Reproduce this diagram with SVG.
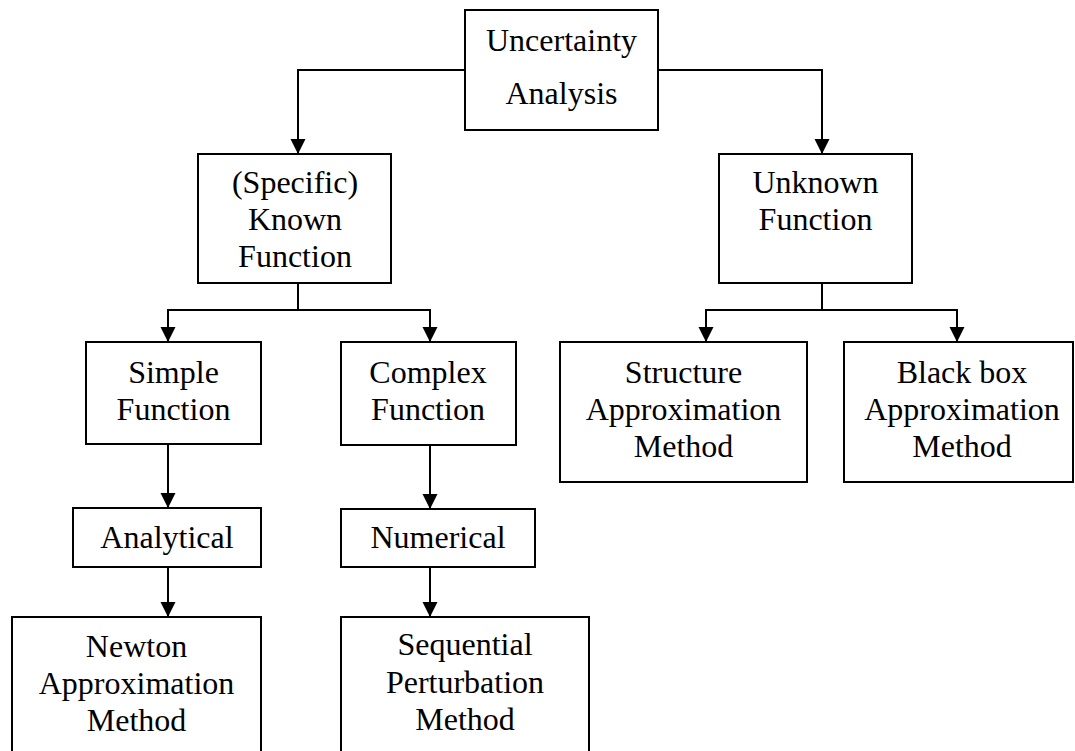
<svg xmlns="http://www.w3.org/2000/svg" width="1075" height="751" viewBox="0 0 1075 751">
<style>
.box{fill:#fff;stroke:#000;stroke-width:2}
.lbl{font-family:"Liberation Serif","Times New Roman",serif;font-size:32px;fill:#000;text-anchor:middle}
.con{fill:none;stroke:#000;stroke-width:2}
</style>
<defs>
<marker id="arr" markerUnits="userSpaceOnUse" markerWidth="16" markerHeight="16" refX="15" refY="7.5" orient="auto">
<path d="M0,0 L15,7.5 L0,15 z" fill="#000"/>
</marker>
</defs>
<rect width="1075" height="751" fill="#fff"/>
<g id="connectors">
<polyline class="con" points="465,70 298,70 298,154" marker-end="url(#arr)"/>
<polyline class="con" points="658,70 822,70 822,154" marker-end="url(#arr)"/>
<polyline class="con" points="298,283 298,310"/>
<polyline class="con" points="298,310 168,310 168,342" marker-end="url(#arr)"/>
<polyline class="con" points="298,310 430,310 430,342" marker-end="url(#arr)"/>
<polyline class="con" points="822,283 822,310"/>
<polyline class="con" points="822,310 706,310 706,342" marker-end="url(#arr)"/>
<polyline class="con" points="822,310 957,310 957,342" marker-end="url(#arr)"/>
<line class="con" x1="168" y1="444" x2="168" y2="508" marker-end="url(#arr)"/>
<line class="con" x1="430" y1="445" x2="430" y2="509" marker-end="url(#arr)"/>
<line class="con" x1="168" y1="567" x2="168" y2="617" marker-end="url(#arr)"/>
<line class="con" x1="430" y1="567" x2="430" y2="617" marker-end="url(#arr)"/>
</g>
<g id="uncertainty">
<rect class="box" x="465" y="10" width="193" height="120"/>
<text class="lbl" x="561.5" y="51">Uncertainty</text>
<text class="lbl" x="561.5" y="104">Analysis</text>
</g>
<g id="known">
<rect class="box" x="198" y="154" width="193" height="129"/>
<text class="lbl" x="295" y="193">(Specific)</text>
<text class="lbl" x="295" y="230">Known</text>
<text class="lbl" x="295" y="267">Function</text>
</g>
<g id="unknown">
<rect class="box" x="719" y="154" width="193" height="129"/>
<text class="lbl" x="815.5" y="193">Unknown</text>
<text class="lbl" x="815.5" y="230">Function</text>
</g>
<g id="simple">
<rect class="box" x="86" y="342" width="175" height="102"/>
<text class="lbl" x="173.5" y="383">Simple</text>
<text class="lbl" x="173.5" y="420">Function</text>
</g>
<g id="complex">
<rect class="box" x="341" y="342" width="175" height="103"/>
<text class="lbl" x="428" y="383">Complex</text>
<text class="lbl" x="428" y="420">Function</text>
</g>
<g id="structure">
<rect class="box" x="560" y="342" width="247" height="140"/>
<text class="lbl" x="683.5" y="383">Structure</text>
<text class="lbl" x="683.5" y="420">Approximation</text>
<text class="lbl" x="683.5" y="457">Method</text>
</g>
<g id="blackbox">
<rect class="box" x="844" y="342" width="229" height="140"/>
<text class="lbl" x="962" y="383">Black box</text>
<text class="lbl" x="962" y="420">Approximation</text>
<text class="lbl" x="962" y="457">Method</text>
</g>
<g id="analytical">
<rect class="box" x="73" y="508" width="188" height="59"/>
<text class="lbl" x="167" y="548">Analytical</text>
</g>
<g id="numerical">
<rect class="box" x="341" y="509" width="194" height="58"/>
<text class="lbl" x="438" y="548">Numerical</text>
</g>
<g id="newton">
<rect class="box" x="12" y="617" width="249" height="150"/>
<text class="lbl" x="136.5" y="657">Newton</text>
<text class="lbl" x="136.5" y="694">Approximation</text>
<text class="lbl" x="136.5" y="731">Method</text>
</g>
<g id="sequential">
<rect class="box" x="341" y="617" width="248" height="150"/>
<text class="lbl" x="465" y="655">Sequential</text>
<text class="lbl" x="465" y="693">Perturbation</text>
<text class="lbl" x="465" y="730">Method</text>
</g>
</svg>
